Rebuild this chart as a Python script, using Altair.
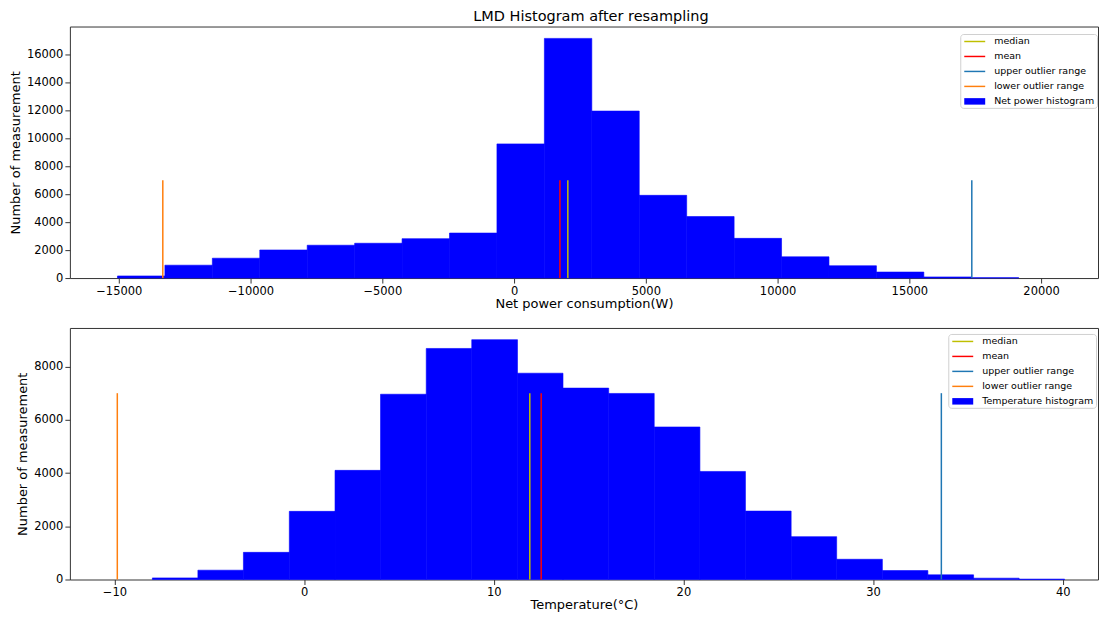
import altair as alt
import pandas as pd

TITLE = "LMD Histogram after resampling"
Y_TITLE = "Number of measurement"

# ---- Net power histogram (top) ----
power_edges = [-15050, -13250, -11450, -9650, -7850, -6050, -4250, -2450, -650,
               1150, 2950, 4750, 6550, 8350, 10150, 11950, 13750, 15550, 17350, 19150]
power_counts = [150, 920, 1420, 2010, 2350, 2490, 2820, 3220, 9600,
                17150, 11950, 5920, 4400, 2840, 1520, 880, 430, 80, 30]
power_stats = [2040, 1740, 17370, -13330]        # median, mean, upper, lower
power_xticks = [-15000, -10000, -5000, 0, 5000, 10000, 15000, 20000]
power_yticks = [0, 2000, 4000, 6000, 8000, 10000, 12000, 14000, 16000]

# ---- Temperature histogram (bottom) ----
temp_edges = [-8.0, -5.6, -3.2, -0.78, 1.63, 4.03, 6.44, 8.84, 11.25, 13.65, 16.06,
              18.46, 20.87, 23.27, 25.68, 28.08, 30.49, 32.89, 35.3, 37.7, 40.1]
temp_counts = [60, 350, 1020, 2560, 4100, 6960, 8680, 9010, 7750, 7190,
               6990, 5730, 4060, 2570, 1610, 760, 335, 175, 50, 15]
temp_stats = [11.9, 12.5, 33.6, -9.85]
temp_xticks = [-10, 0, 10, 20, 30, 40]
temp_yticks = [0, 2000, 4000, 6000, 8000]

stat_names = ["median", "mean", "upper outlier range", "lower outlier range"]
stat_colors = ["#bfbf00", "#ff0000", "#1f77b4", "#ff7f0e"]
stat_line_top = 7000
hist_color = "#0000ff"

LINE_PATH = "M-2,-0.14H2V0.14H-2Z"
PATCH_PATH = "M-2,-0.62H2V0.62H-2Z"

FONT = "DejaVu Sans"
W = 1030
H = 252


def panel(edges, counts, stats, hist_name, x_title, x_domain, y_domain,
          xticks, yticks, legend_xy, title=None):
    bars_df = pd.DataFrame({"x0": edges[:-1], "x1": edges[1:], "count": counts})
    rules_df = pd.DataFrame({"x": stats, "series": stat_names, "color": stat_colors,
                             "y0": 0, "y1": stat_line_top})
    series = stat_names + [hist_name]
    legend_df = pd.DataFrame({"series": series, "x": stats + [edges[0]], "y": 0})

    xscale = alt.Scale(domain=x_domain, nice=False, zero=False)
    yscale = alt.Scale(domain=y_domain, nice=False, zero=False)
    xaxis = alt.Axis(values=xticks, format="d")
    yaxis = alt.Axis(values=yticks, format="d")

    legend = alt.Legend(title=None, orient="none", legendX=legend_xy[0], legendY=legend_xy[1],
                        labelFont=FONT, labelFontSize=9.5, labelColor="#000000",
                        symbolSize=110, symbolOpacity=1, symbolStrokeWidth=0,
                        padding=2, rowPadding=5, labelOffset=14, symbolOffset=7,
                        strokeColor="#d0d0d0", fillColor="#ffffff", cornerRadius=3)

    bars = alt.Chart(bars_df).mark_rect(color=hist_color, stroke=hist_color,
                                        strokeWidth=0.6).encode(
        x=alt.X("x0:Q", scale=xscale, axis=xaxis, title=x_title),
        x2="x1:Q",
        y=alt.Y("count:Q", scale=yscale, axis=yaxis, title=Y_TITLE),
        y2=alt.datum(0),
    )
    rules = alt.Chart(rules_df).mark_rule(strokeWidth=1.5).encode(
        x=alt.X("x:Q", scale=xscale, axis=xaxis, title=x_title),
        y=alt.Y("y0:Q", scale=yscale, axis=yaxis, title=Y_TITLE),
        y2="y1:Q",
        color=alt.Color("color:N", scale=None),
    )
    leg = alt.Chart(legend_df).mark_point(filled=True, opacity=0).encode(
        x=alt.X("x:Q", scale=xscale, axis=xaxis, title=x_title),
        y=alt.Y("y:Q", scale=yscale, axis=yaxis, title=Y_TITLE),
        color=alt.Color("series:N", title=None,
                        scale=alt.Scale(domain=series, range=stat_colors + [hist_color]),
                        legend=legend),
        shape=alt.Shape("series:N", title=None,
                        scale=alt.Scale(domain=series, range=[LINE_PATH] * 4 + [PATCH_PATH]),
                        legend=legend),
    )
    layer = alt.layer(bars, rules, leg).properties(width=W, height=H)
    if title:
        layer = layer.properties(title=alt.TitleParams(title, anchor="middle", offset=2, dx=7))
    return layer


top = panel(power_edges, power_counts, power_stats, "Net power histogram",
            "Net power consumption(W)", [-16856, 22159], [0, 18000],
            power_xticks, power_yticks, (892, 7.5), title=TITLE)
bottom = panel(temp_edges, temp_counts, temp_stats, "Temperature histogram",
               "Temperature(°C)", [-12.35, 41.86], [0, 9450],
               temp_xticks, temp_yticks, (880, 6))

chart = alt.vconcat(top, bottom, spacing=16).resolve_scale(
    color="independent", shape="independent"
).resolve_legend(
    color="independent", shape="independent"
).properties(
    padding={"left": 0, "top": 0, "right": 0, "bottom": 0}
).configure_axis(
    labelFont=FONT, labelFontSize=11.5, labelColor="#000000",
    titleFont=FONT, titleFontSize=13, titleFontWeight="normal", titleColor="#000000",
    grid=False, domain=False, tickColor="#333333", tickSize=5, labelPadding=2,
).configure_axisX(titlePadding=1).configure_axisY(titlePadding=4).configure_view(
    stroke="#333333", strokeWidth=1
).configure_title(
    font=FONT, fontSize=14.5, fontWeight="normal", color="#000000"
)

chart.save("out.html", embed_options={"renderer": "svg", "actions": False})
